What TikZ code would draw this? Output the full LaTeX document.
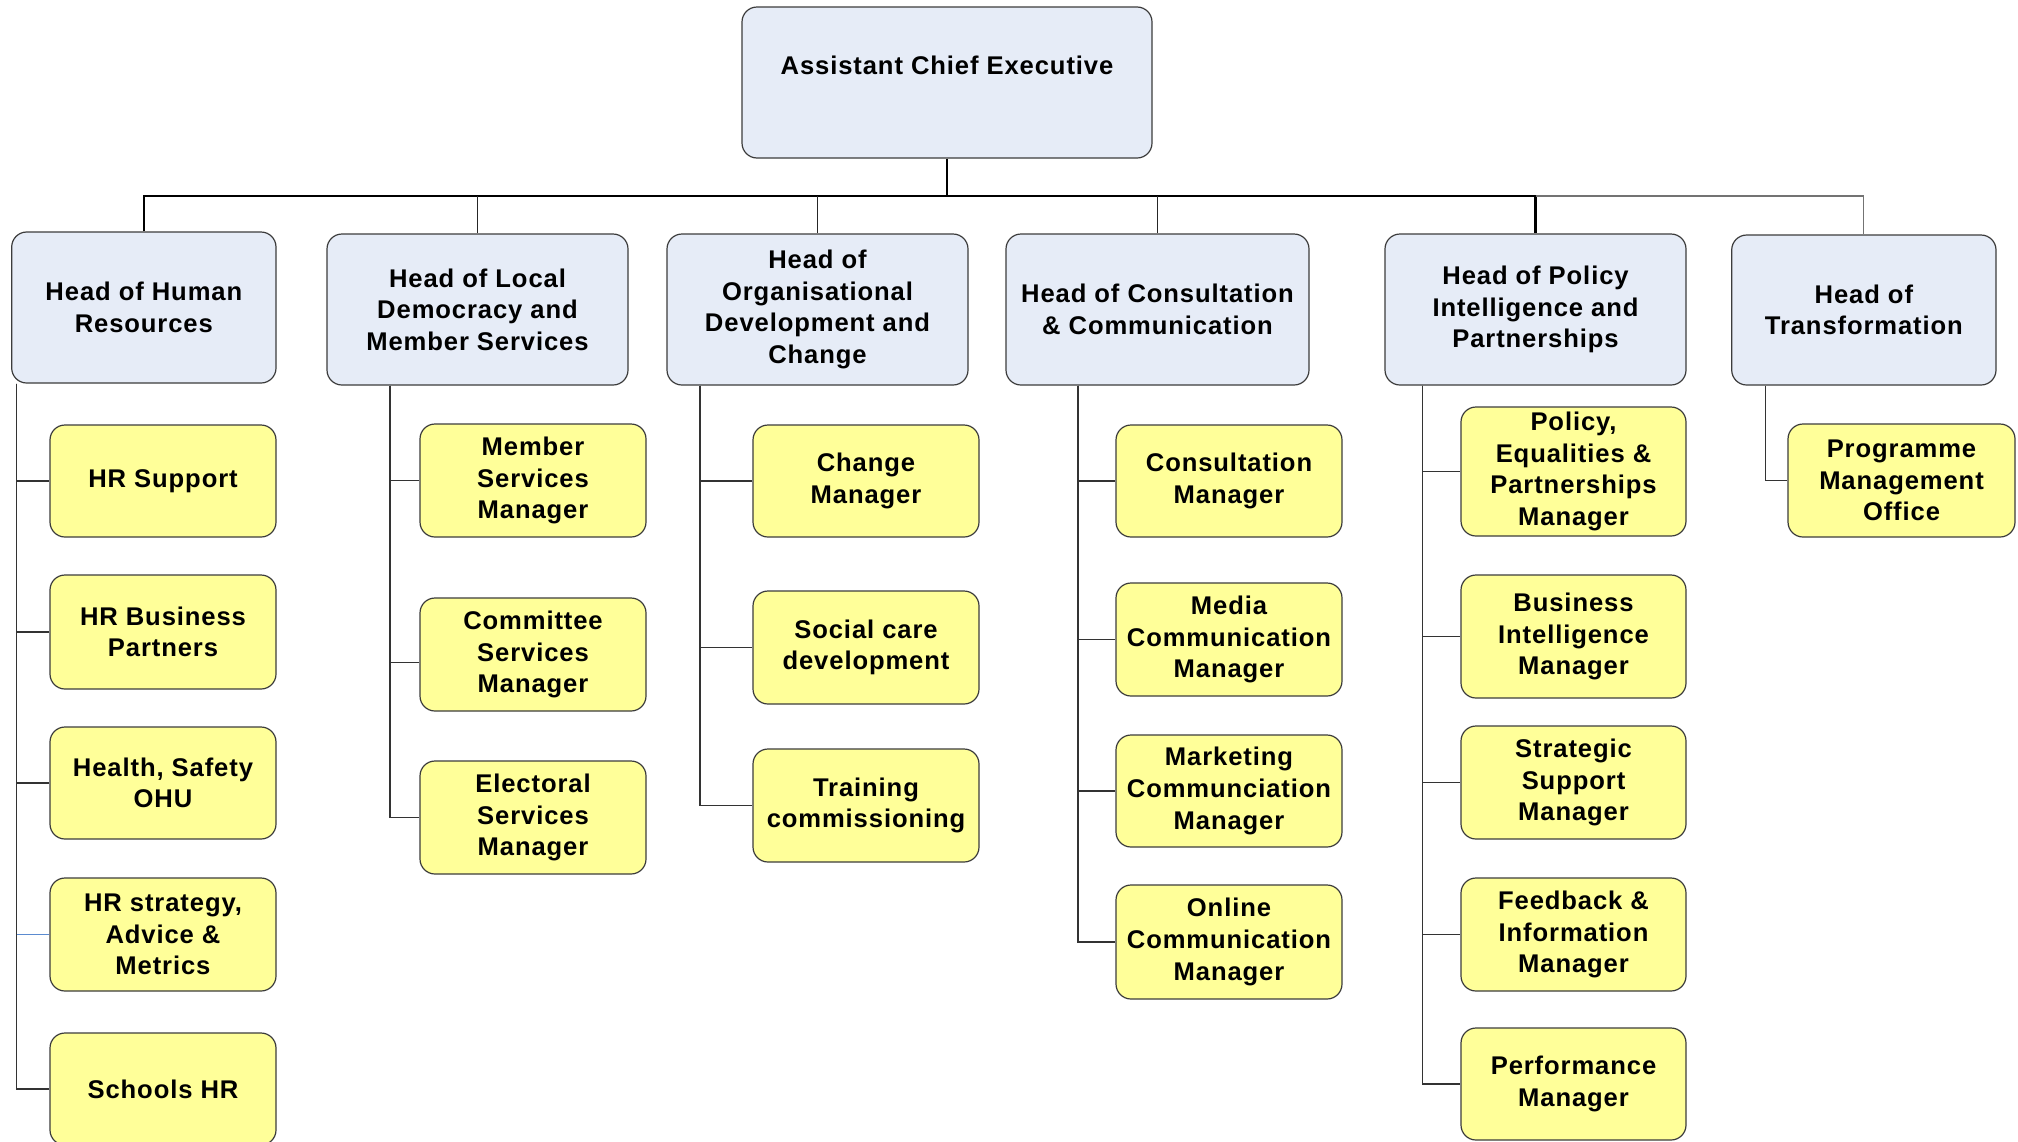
\documentclass[tikz,border=0pt]{standalone}
\usepackage{fontspec}
\setmainfont{Liberation Sans}[LetterSpace=3.5]
\usetikzlibrary{positioning}
\definecolor{headfill}{RGB}{230,236,247}
\definecolor{subfill}{RGB}{255,255,153}
\definecolor{boxline}{RGB}{60,60,60}
\definecolor{connblue}{RGB}{91,139,208}
\tikzset{
  orgbase/.style={draw=boxline, line width=0.6pt, rounded corners=7.5pt, align=center, inner sep=0pt,
    font=\fontsize{12.8}{15.8}\selectfont\bfseries, text=black},
  headbox/.style={orgbase, fill=headfill},
  subbox/.style={orgbase, fill=subfill},
  busline/.style={line width=1.1pt, black},
  dropline/.style={line width=0.6pt, black!85},
  greyline/.style={line width=0.6pt, black!55},
  conn/.style={line width=0.55pt, black!80},
  connb/.style={line width=0.55pt, connblue},
}
% #1 style, #2 name, #3 x1, #4 y1, #5 x2, #6 y2, #7 text (pixel units)
\newcommand\orgbox[7]{%
  \node[#1, minimum width={(#5-#3)*0.5pt}, minimum height={(#6-#4)*0.5pt}]
    (#2) at ({(#3+#5)/2},{(#4+#6)/2}) {#7};}
\begin{document}
\begin{tikzpicture}[x=0.5pt,y=-0.5pt]
\clip (0,0) rectangle (2018,1141);
\fill[white] (0,0) rectangle (2018,1141);
% heads
\orgbox{headbox}{ace}{742}{7}{1152}{158}{Assistant Chief Executive\\[1pt]\mbox{}}
\orgbox{headbox}{hr}{11.7}{232}{276}{383}{Head of Human\\Resources}
\orgbox{headbox}{lds}{327}{234}{628}{385}{Head of Local\\Democracy and\\Member Services}
\orgbox{headbox}{odc}{667}{234}{968}{385}{Head of\\Organisational\\Development and\\Change}
\orgbox{headbox}{cc}{1006}{234}{1309}{385}{Head of Consultation\\\& Communication}
\orgbox{headbox}{pip}{1385}{234}{1686}{385}{Head of Policy\\Intelligence and\\Partnerships}
\orgbox{headbox}{tr}{1731.7}{235}{1996}{385}{Head of\\Transformation}
% HR column
\orgbox{subbox}{hrs}{50}{425}{276}{537}{HR Support}
\orgbox{subbox}{hrbp}{50}{575}{276}{689}{HR Business\\Partners}
\orgbox{subbox}{hso}{50}{727}{276}{839}{Health, Safety\\OHU}
\orgbox{subbox}{hrsa}{50}{878}{276}{991}{HR strategy,\\Advice \&\\Metrics}
\orgbox{subbox}{shr}{50}{1033}{276}{1145}{Schools HR}
% Democracy column
\orgbox{subbox}{msm}{420}{424}{646}{537}{Member\\Services\\Manager}
\orgbox{subbox}{csm}{420}{598}{646}{711}{Committee\\Services\\Manager}
\orgbox{subbox}{esm}{420}{761}{646}{874}{Electoral\\Services\\Manager}
% Organisational column
\orgbox{subbox}{chm}{753}{425}{979}{537}{Change\\Manager}
\orgbox{subbox}{scd}{753}{591}{979}{704}{Social care\\development}
\orgbox{subbox}{trc}{753}{749}{979}{862}{Training\\commissioning}
% Consultation column
\orgbox{subbox}{cm}{1116}{425}{1342}{537}{Consultation\\Manager}
\orgbox{subbox}{mcm}{1116}{583}{1342}{696}{Media\\Communication\\Manager}
\orgbox{subbox}{mkc}{1116}{735}{1342}{847}{Marketing\\Communciation\\Manager}
\orgbox{subbox}{ocm}{1116}{885}{1342}{999}{Online\\Communication\\Manager}
% Policy column
\orgbox{subbox}{pem}{1461}{407}{1686}{536}{Policy,\\Equalities \&\\Partnerships\\Manager}
\orgbox{subbox}{bim}{1461}{575}{1686}{698}{Business\\Intelligence\\Manager}
\orgbox{subbox}{ssm}{1461}{726}{1686}{839}{Strategic\\Support\\Manager}
\orgbox{subbox}{fim}{1461}{878}{1686}{991}{Feedback \&\\Information\\Manager}
\orgbox{subbox}{pm}{1461}{1028}{1686}{1140}{Performance\\Manager}
% Transformation column
\orgbox{subbox}{pmo}{1788}{424}{2015}{537}{Programme\\Management\\Office}
% connector coordinates
\coordinate (bus) at (0,196);
\coordinate (hrcol) at (16.5,0);
\coordinate (ldscol) at (390,0);
\coordinate (odccol) at (700,0);
\coordinate (cccol) at (1078,0);
\coordinate (pipcol) at (1422.5,0);
\coordinate (trcol) at (1765.7,0);
% top level
\draw[busline] (hr.north) -- (hr.north |- bus) -- (pip.north |- bus) -- (pip.north);
\draw[busline] (ace.south) -- (ace.south |- bus);
\draw[dropline] (lds.north |- bus) -- (lds.north);
\draw[dropline] (odc.north |- bus) -- (odc.north);
\draw[dropline] (cc.north |- bus) -- (cc.north);
\draw[greyline] (pip.north |- bus) -- (tr.north |- bus) -- (tr.north);
% HR
\draw[conn] (hrcol |- hr.south) |- (hrs.west);
\draw[conn] (hrcol |- hr.south) |- (hrbp.west);
\draw[conn] (hrcol |- hr.south) |- (hso.west);
\draw[conn] (hrcol |- hr.south) |- (shr.west);
\draw[connb] (hrcol |- hrsa.west) -- (hrsa.west);
% Democracy
\draw[conn] (ldscol |- lds.south) |- (msm.west);
\draw[conn] (ldscol |- lds.south) |- ([yshift=-4pt]csm.west);
\draw[conn] (ldscol |- lds.south) |- (esm.west);
% Organisational
\draw[conn] (odccol |- odc.south) |- (chm.west);
\draw[conn] (odccol |- odc.south) |- (scd.west);
\draw[conn] (odccol |- odc.south) |- (trc.west);
% Consultation
\draw[conn] (cccol |- cc.south) |- (cm.west);
\draw[conn] (cccol |- cc.south) |- (mcm.west);
\draw[conn] (cccol |- cc.south) |- (mkc.west);
\draw[conn] (cccol |- cc.south) |- (ocm.west);
% Policy
\draw[conn] (pipcol |- pip.south) |- (pem.west);
\draw[conn] (pipcol |- pip.south) |- (bim.west);
\draw[conn] (pipcol |- pip.south) |- (ssm.west);
\draw[conn] (pipcol |- pip.south) |- (fim.west);
\draw[conn] (pipcol |- pip.south) |- (pm.west);
% Transformation
\draw[conn] (trcol |- tr.south) |- (pmo.west);
\end{tikzpicture}
\end{document}
